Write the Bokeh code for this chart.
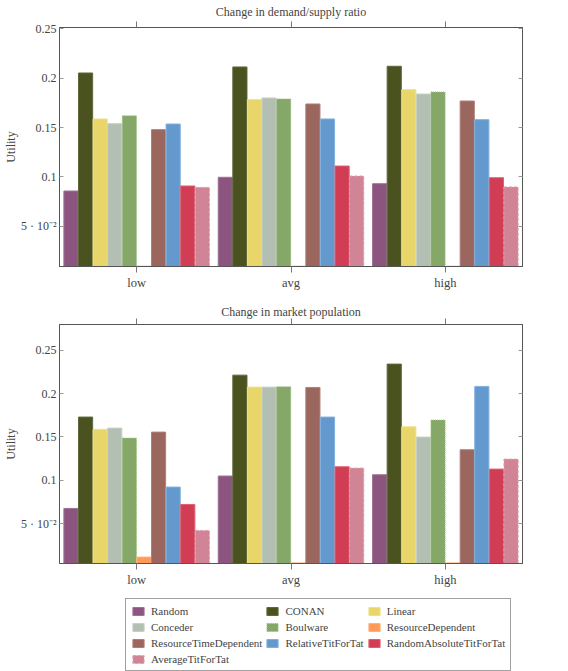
from bokeh.plotting import figure
from bokeh.models import (Range1d, FactorRange, LinearAxis, CategoricalAxis, Legend,
                          LegendItem, ColumnDataSource, FixedTicker)
from bokeh.transform import dodge
from bokeh.layouts import column
from bokeh.embed import file_html
from bokeh.resources import INLINE

categories = ["low", "avg", "high"]
strategies = ["Random", "CONAN", "Linear", "Conceder", "Boulware", "ResourceDependent",
              "ResourceTimeDependent", "RelativeTitForTat", "RandomAbsoluteTitForTat",
              "AverageTitForTat"]

# Chart 1: Change in demand/supply ratio (low, avg, high)
ds_random = [0.0858, 0.0997, 0.0932]
ds_conan = [0.2054, 0.2115, 0.2122]
ds_linear = [0.1588, 0.1784, 0.1885]
ds_conceder = [0.1540, 0.1801, 0.1841]
ds_boulware = [0.1620, 0.1791, 0.1861]
ds_resource_dep = [0.0096, 0.0096, 0.0096]
ds_resource_time_dep = [0.1480, 0.1740, 0.1770]
ds_relative_tft = [0.1537, 0.1588, 0.1581]
ds_random_abs_tft = [0.0909, 0.1111, 0.0993]
ds_average_tft = [0.0895, 0.1010, 0.0899]

# Chart 2: Change in market population (low, avg, high)
mp_random = [0.0677, 0.1050, 0.1065]
mp_conan = [0.1729, 0.2212, 0.2339]
mp_linear = [0.1587, 0.2074, 0.1617]
mp_conceder = [0.1602, 0.2074, 0.1499]
mp_boulware = [0.1487, 0.2078, 0.1694]
mp_resource_dep = [0.0117, 0.0050, 0.0050]
mp_resource_time_dep = [0.1556, 0.2070, 0.1353]
mp_relative_tft = [0.0923, 0.1729, 0.2082]
mp_random_abs_tft = [0.0723, 0.1157, 0.1130]
mp_average_tft = [0.0424, 0.1142, 0.1245]

y_ticks = [0.05, 0.1, 0.15, 0.2, 0.25]
y_tick_labels = ["5 · 10⁻²", "0.1", "0.15", "0.2", "0.25"]

colors = ["#8b5580", "#4a5320", "#e8d66a", "#b4bfb3", "#85a868", "#ff9955",
          "#9a665e", "#6499ce", "#d03d55", "#d08496"]
edge_colors = ["#a07096", "#5e6838", "#f0e08a", "#c8d0c6", "#9cbf80", "#ffb080",
               "#b08078", "#80b0e0", "#e06070", "#e0a0b0"]
dashes = ["solid", "solid", "solid", "solid", "1 1", "solid", "solid", "solid", "solid", "3 2"]

FONT = "Liberation Serif"
keys = [f"s{i}" for i in range(len(strategies))]
STEP = 0.0946

ds_series = [ds_random, ds_conan, ds_linear, ds_conceder, ds_boulware, ds_resource_dep,
             ds_resource_time_dep, ds_relative_tft, ds_random_abs_tft, ds_average_tft]
mp_series = [mp_random, mp_conan, mp_linear, mp_conceder, mp_boulware, mp_resource_dep,
             mp_resource_time_dep, mp_relative_tft, mp_random_abs_tft, mp_average_tft]


def add_bars(p, src):
    n = len(strategies)
    renderers = []
    for i, k in enumerate(keys):
        off = (i - (n - 1) / 2) * STEP
        r = p.vbar(x=dodge("cat", off, range=p.x_range), top=k, bottom=0,
                   width=STEP * 0.97, source=src,
                   fill_color=colors[i], line_color=edge_colors[i],
                   line_width=1, line_dash=dashes[i])
        renderers.append(r)
    return renderers


def make_chart(title, series, y0, y1, top, bottom, title_standoff):
    src = ColumnDataSource(dict(cat=categories, **{k: v for k, v in zip(keys, series)}))
    p = figure(x_range=FactorRange(*categories, range_padding=0),
               y_range=Range1d(y0, y1), frame_width=463, frame_height=239,
               output_backend="svg", toolbar_location=None,
               min_border_left=50, min_border_right=20,
               min_border_top=top, min_border_bottom=bottom)
    p.title.text = title
    p.title.align = "center"
    p.title.text_font = FONT
    p.title.text_font_size = "12px"
    p.title.text_font_style = "normal"
    p.title.standoff = title_standoff
    p.title.offset = 0
    p.xgrid.visible = False
    p.ygrid.visible = False
    p.outline_line_color = "#555555"
    p.outline_line_width = 1
    p.background_fill_color = "white"
    p.border_fill_color = "white"

    add_bars(p, src)

    ya = p.yaxis[0]
    ya.ticker = FixedTicker(ticks=y_ticks)
    ya.major_label_overrides = {t: l for t, l in zip(y_ticks, y_tick_labels)}
    ya.axis_label = "Utility"
    ya.axis_label_text_font = FONT
    ya.axis_label_text_font_style = "normal"
    ya.axis_label_text_font_size = "12px"
    ya.axis_label_standoff = 0
    ya.major_label_text_font = FONT
    ya.major_label_text_font_size = "12px"
    ya.major_label_standoff = 3
    ya.major_tick_in = 4
    ya.major_tick_out = 0
    ya.minor_tick_line_color = None
    ya.major_tick_line_color = "#999999"
    ya.axis_line_color = "#555555"

    xa = p.xaxis[0]
    xa.major_label_text_font = FONT
    xa.major_label_text_font_size = "12.5px"
    xa.major_tick_in = 0
    xa.major_tick_out = 6
    xa.major_label_standoff = 3
    xa.major_tick_line_color = "#777777"
    xa.axis_line_color = "#555555"

    ra = LinearAxis(ticker=FixedTicker(ticks=y_ticks), major_tick_in=4, major_tick_out=0,
                    minor_tick_line_color=None, major_tick_line_color="#999999",
                    axis_line_color="#555555", major_label_text_color=None,
                    major_label_text_font_size="2px", major_label_standoff=0)
    p.add_layout(ra, "right")

    ta = CategoricalAxis(major_tick_in=0, major_tick_out=6, major_tick_line_color="#777777",
                         axis_line_color="#555555", major_label_text_color=None,
                         major_label_text_font_size="2px", major_label_standoff=0)
    p.add_layout(ta, "above")
    return p, src


p1, src1 = make_chart("Change in demand/supply ratio", ds_series, 0.0093, 0.2515, 26, 33, 5)
p2, src2 = make_chart("Change in market population", mp_series, 0.0043, 0.2795, 25, 28, 0)

# Legend panel: the bars of chart 2 drawn into a y range where they stay out of view
pl = figure(x_range=FactorRange(*categories, range_padding=0), y_range=Range1d(1.0, 2.0),
            frame_width=463, frame_height=81, min_border_left=50, min_border_right=20,
            min_border_top=0, min_border_bottom=0, x_axis_location=None,
            y_axis_location=None, output_backend="svg", toolbar_location=None)
pl.xgrid.visible = False
pl.ygrid.visible = False
pl.outline_line_color = None
lr = add_bars(pl, src2)

legend = Legend(items=[LegendItem(label=s, renderers=[r]) for s, r in zip(strategies, lr)],
                ncols=3, orientation="horizontal", location=(66, 1))
legend.label_text_font = FONT
legend.label_text_font_size = "11px"
legend.label_height = 13
legend.glyph_height = 10
legend.glyph_width = 14
legend.spacing = 3
legend.padding = 5
legend.margin = 0
legend.label_standoff = 6
legend.border_line_color = "#444444"
legend.border_line_width = 1
legend.background_fill_color = "white"
legend.background_fill_alpha = 1.0
pl.add_layout(legend, "center")

layout = column(p1, p2, pl)
open("out.html", "w").write(file_html(layout, INLINE))
